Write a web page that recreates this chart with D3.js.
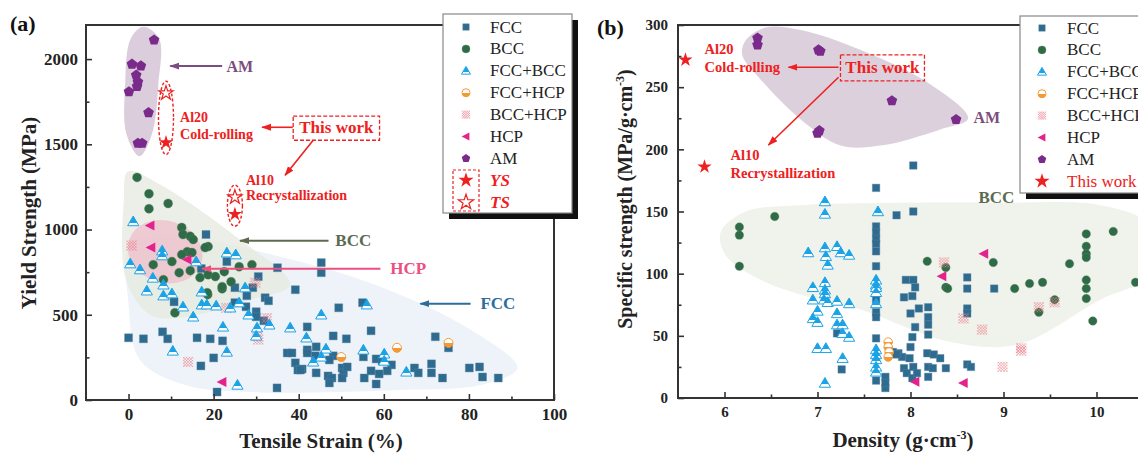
<!DOCTYPE html>
<html>
<head>
<meta charset="utf-8">
<script src="https://cdn.jsdelivr.net/npm/d3@7"></script>
<style>
body { margin: 0; background: #fff; }
svg { display: block; font-family: "Liberation Serif", "Times New Roman", serif; }
</style>
</head>
<body>
<script>
// ---------- panel (a): [tensile strain (%), yield strength (MPa)]
var fccA = [[0,365],[3.5,359],[8,400],[9.2,359],[10.7,576],[16.1,365],[19.2,359],[22.1,347],[20,247],[17,200],[20.8,47],[18.2,971],[23.1,812],[17.1,771],[25,659],[25,571],[27.8,612],[27.6,547],[29.2,659],[30.5,724],[30,518],[30,488],[31.8,465],[32.1,600],[32.9,582],[35,776],[39.2,647],[34.9,71],[37.3,276],[38.4,276],[39.2,218],[39.8,176],[45.3,806],[45.3,747],[49.4,541],[55,571],[42,429],[48.1,376],[51.2,359],[57,406],[42,294],[44.1,312],[42,276],[43.9,259],[48.1,259],[47.2,235],[55.2,253],[58.2,241],[59.6,229],[61.8,206],[40.8,182],[44.1,159],[46.9,141],[47.8,129],[47.2,100],[50.2,188],[50.5,159],[51.4,194],[50.2,129],[55.4,129],[57,171],[58.9,153],[58.2,94],[60.8,171],[67.2,188],[68.1,159],[71.2,212],[71.2,159],[73.8,129],[72.1,371],[75.2,306],[80.1,188],[82.5,194],[83.2,135],[86.9,129],[40.4,176]];
var bccA = [[2,1306],[4.8,1210],[4.8,1122],[9.3,1153],[12.5,1012],[12.8,971],[14.5,960],[15.2,941],[18.7,900],[18,894],[13.8,870],[14.9,865],[12.5,853],[10.2,812],[5.8,794],[26,782],[29,794],[8.2,706],[11.9,747],[14.5,759],[16.8,718],[18.7,735],[20.4,724],[22.5,753],[24.1,694],[22,653],[18.6,618],[10.9,512],[22,665],[18.5,629]];
var fccBccA = [[1.1,1047],[0.4,800],[2.7,765],[5.7,716],[7.9,876],[7.9,847],[8.2,676],[4.3,641],[8.2,612],[10.2,624],[12.8,547],[15.2,488],[17.2,635],[17.2,559],[18.4,559],[20.6,553],[23.1,864],[25.2,853],[15.9,812],[22.2,429],[10.4,288],[23.1,282],[25.6,88],[26,571],[23.9,541],[28.2,500],[30.2,424],[30,376],[33.1,441],[38,424],[27.4,659],[41.8,365],[45.3,500],[56,559],[46.4,300],[55.2,294],[45.3,253],[43.4,224],[60.1,271],[60.1,229],[65.3,165]];
var fccHcpA = [[50,252],[63.1,306],[75.2,335]];
var bccHcpA = [[0.7,906],[14,223],[23,540],[29.8,688],[30.5,355],[30.2,382],[32.5,480]];
var hcpA = [[5.1,1024],[5.3,894],[13.8,824],[22,106]];
var amA = [[6,2112],[0.8,1970],[2.9,1960],[1.8,1906],[2.2,1866],[2,1840],[0.1,1808],[4.7,1686],[2.2,1506],[3.2,1506]];
var ysA = [[8.8,1510],[25,1090]];
var tsA = [[8.8,1800],[25,1190]];

// ---------- panel (b): [density (g/cm3), specific strength]
var fccB = [[8.03,187],[7.63,169],[7.85,147],[8.03,150],[7.63,138],[7.63,133],[7.63,128],[7.63,124],[7.63,118],[7.63,106],[7.63,79],[7.63,69],[7.63,65],[7.63,48],[7.63,32],[7.63,14],[7.21,52],[7.26,23],[7.73,17],[7.73,8],[7.73,12],[7.87,36],[7.91,33],[7.95,95],[8.03,95],[8.05,89],[7.93,81],[8.02,82],[8.09,72],[8.19,73],[8.19,65],[8.19,59],[8.19,51],[8.0,68],[8.05,57],[8.02,49],[8.0,41],[7.93,24],[7.96,20],[8.03,25],[7.99,32],[8.02,16],[8.07,20],[8.18,36],[8.25,35],[8.32,32],[8.19,25],[8.24,24],[8.19,17],[8.38,24],[8.61,97],[8.61,88],[8.61,72],[8.61,68],[8.61,27],[8.65,25],[8.9,88],[7.81,37],[7.85,35]];
var bccB = [[6.16,137.5],[6.16,131],[6.16,106],[6.54,146],[8.18,110],[8.38,105],[8.38,89],[8.4,88],[8.89,109],[9.12,88],[9.28,92],[9.42,93],[9.38,69],[9.55,79],[9.71,108],[9.89,132],[9.89,122],[9.89,116],[9.89,113],[9.89,95],[9.89,88],[9.89,80],[9.96,62],[10.18,134],[10.42,93]];
var fccBccB = [[7.08,158],[7.08,148],[6.9,117],[7.08,121],[7.21,122],[7.25,117],[7.34,115],[7.09,114],[7.11,107],[6.95,89],[7.08,93],[7.08,87],[7.08,84],[6.95,79],[7.07,79],[7.11,77],[7.21,78],[7.34,76],[7.0,70],[7.21,68],[6.95,64],[7.0,61],[7.21,59],[7.27,59],[7.27,52],[7.34,49],[7.0,40],[7.09,40],[7.27,32],[7.08,12],[7.65,150],[7.63,95],[7.63,91],[7.63,89],[7.63,85],[7.63,76],[7.63,39],[7.63,35],[7.63,31],[7.63,25],[7.63,21]];
var fccHcpB = [[7.76,45],[7.76,41],[7.77,37],[7.76,33]];
var bccHcpB = [[8.36,109],[8.57,64],[8.77,55],[9.19,38],[9.19,40],[8.99,25],[9.38,73],[9.55,77]];
var hcpB = [[8.79,116],[8.34,98],[8.05,13],[8.57,12]];
var amB = [[6.355,289.5],[6.355,284],[7.01,280],[7.03,279],[7.02,215],[7.0,213],[7.8,239],[8.49,224]];
var thisWorkB = [[5.58,272],[5.785,186]];

// shaded group outlines (data units)
var amRegA = [[3.5,2190],[7.2,2120],[7.0,1850],[5.5,1560],[2.6,1430],[-0.5,1560],[-0.8,1850],[0.5,2120]];
var bccRegA = [[-0.1,1341],[7.4,1265],[26.2,941],[38,676],[28.6,588],[12.1,482],[5.1,500],[-0.6,706],[-1.1,1176]];
var fccRegA = [[5.1,971],[35.6,841],[59.2,665],[80.4,412],[91.4,188],[82.7,88],[63.9,59],[28.6,47],[13.3,88],[2.7,235],[-0.1,588],[-0.1,882]];
var amRegB = [[6.23,288],[6.44,298],[6.82,296],[7.46,280],[8.22,252],[8.62,225],[8.32,216],[7.68,203],[7.25,203],[6.82,224],[6.39,256],[6.19,276]];
var bccRegB = [[5.96,133.5],[6.23,150],[6.82,155],[7.89,157],[8.97,157],[10.04,155],[10.58,139],[10.69,103],[10.04,79],[9.15,43],[8.43,45],[7.43,72],[6.92,81],[6.39,95],[6.01,115]];

var xTicksA = [0,20,40,60,80,100], xMinorA = [10,30,50,70,90];
var yTicksA = [0,500,1000,1500,2000], yMinorA = [250,750,1250,1750];
var xTicksB = [6,7,8,9,10], xMinorB = [6.5,7.5,8.5,9.5,10.5];
var yTicksB = [0,50,100,150,200,250,300], yMinorB = [25,75,125,175,225,275];

var legendA = [['FCC','fcc'],['BCC','bcc'],['FCC+BCC','fb'],['FCC+HCP','fh'],['BCC+HCP','bh'],['HCP','hcp'],['AM','am']];

var C = {fcc:'#2e6b8f', bcc:'#2f6b47', fb:'#1ba3e8', fh:'#f39a35', bh:'#ea7f8a', hcp:'#e3238b', am:'#7a2a8b', red:'#ee2020', axis:'#333'};

var svg = d3.select('body').append('svg').attr('width', 1138).attr('height', 455);
var defs = svg.append('defs');

var gt = defs.append('linearGradient').attr('id','gTri').attr('x1',0).attr('y1',0).attr('x2',0).attr('y2',1);
gt.append('stop').attr('offset','0').attr('stop-color',C.fb);
gt.append('stop').attr('offset','0.68').attr('stop-color',C.fb);
gt.append('stop').attr('offset','0.68').attr('stop-color','#fff');
gt.append('stop').attr('offset','1').attr('stop-color','#fff');
var go = defs.append('linearGradient').attr('id','gOr').attr('x1',0).attr('y1',0).attr('x2',0).attr('y2',1);
go.append('stop').attr('offset','0').attr('stop-color','#fff');
go.append('stop').attr('offset','0.5').attr('stop-color','#fff');
go.append('stop').attr('offset','0.5').attr('stop-color',C.fh);
go.append('stop').attr('offset','1').attr('stop-color',C.fh);

function arrowHead(name, color) {
    defs.append('marker').attr('id','ah-'+name)
        .attr('viewBox','0 0 10 10').attr('refX',9).attr('refY',5)
        .attr('markerWidth',10).attr('markerHeight',10)
        .attr('markerUnits','userSpaceOnUse').attr('orient','auto')
        .append('path').attr('d','M0,1.5L10,5L0,8.5Z').attr('fill',color);
}
arrowHead('am','#7a4e7e');
arrowHead('bcc','#5c6b50');
arrowHead('hcp','#ec4f80');
arrowHead('fcc','#2d6d9c');
arrowHead('red',C.red);

function hatch(s) {
    var h = s/2, st = s/3.5, p = '';
    for (var c = -2*h + st/2; c < 2*h; c += st) {
        var a = Math.max(-h, -h-c), b = Math.min(h, h-c);
        if (b > a) p += 'M'+a+','+(a+c)+'L'+b+','+(b+c);
        a = Math.max(-h, c-h); b = Math.min(h, c+h);
        if (b > a) p += 'M'+a+','+(c-a)+'L'+b+','+(c-b);
    }
    return p;
}
function pent(r) {
    var pts = d3.range(5).map(function(k) {
        var t = -Math.PI/2 + k*2*Math.PI/5;
        return [r*Math.cos(t), r*Math.sin(t)];
    });
    return 'M' + pts.join('L') + 'Z';
}

// shape + style for one marker type
function styleSym(sel, type, s) {
    var h = s/2;
    if (type == 'fcc') {
        sel.attr('d','M'+(-h)+','+(-h)+'h'+s+'v'+s+'h'+(-s)+'Z').attr('fill',C.fcc).attr('stroke','#5b88a8').attr('stroke-width',0.4);
    } else if (type == 'bcc') {
        sel.attr('d', d3.symbol(d3.symbolCircle, Math.PI*h*h)()).attr('fill',C.bcc).attr('stroke','#5c8a6a').attr('stroke-width',0.4);
    } else if (type == 'fb') {
        sel.attr('d','M0,'+(-0.55*s)+'L'+(0.56*s)+','+(0.42*s)+'L'+(-0.56*s)+','+(0.42*s)+'Z')
            .attr('fill','url(#gTri)').attr('stroke',C.fb).attr('stroke-width',1);
    } else if (type == 'fh') {
        sel.attr('d', d3.symbol(d3.symbolCircle, Math.PI*h*h)()).attr('fill','url(#gOr)').attr('stroke',C.fh).attr('stroke-width',1);
    } else if (type == 'bh') {
        sel.attr('d', hatch(s)).attr('fill','none').attr('stroke',C.bh).attr('stroke-width',0.55);
    } else if (type == 'hcp') {
        sel.attr('d','M'+(-0.55*s)+',0L'+(0.42*s)+','+(-0.5*s)+'L'+(0.42*s)+','+(0.5*s)+'Z').attr('fill',C.hcp);
    } else if (type == 'am') {
        sel.attr('d', pent(0.56*s)).attr('fill',C.am);
    } else if (type == 'ys') {
        sel.attr('d', d3.symbol(d3.symbolStar, h*h/0.89)()).attr('fill',C.red);
    } else if (type == 'ts') {
        sel.attr('d', d3.symbol(d3.symbolStar, h*h/0.89)()).attr('fill','#fff').attr('stroke',C.red).attr('stroke-width',1.2);
    }
}

function plot(g, data, type, x, y, s) {
    var sel = g.append('g').selectAll('path').data(data).join('path')
        .attr('transform', function(d) { return 'translate(' + x(d[0]) + ',' + y(d[1]) + ')'; });
    styleSym(sel, type, s);
}

function region(g, pts, x, y, fill, op) {
    var line = d3.line().x(function(d){ return x(d[0]); }).y(function(d){ return y(d[1]); })
        .curve(d3.curveCatmullRomClosed.alpha(0.5));
    g.append('path').attr('d', line(pts)).attr('fill', fill).attr('fill-opacity', op);
}

function axes(g, x, y, xt, xm, yt, ym, fs, padX, padY) {
    var y0 = y.range()[0], x0 = x.range()[0];
    g.append('g').attr('transform','translate(0,'+y0+')')
        .call(d3.axisBottom(x).tickValues(xt).tickSize(-6).tickPadding(padX).tickFormat(d3.format('d')));
    g.append('g').attr('transform','translate(0,'+y0+')')
        .call(d3.axisBottom(x).tickValues(xm).tickSize(-3.5).tickFormat(''));
    g.append('g').attr('transform','translate('+x0+',0)')
        .call(d3.axisLeft(y).tickValues(yt).tickSize(-6).tickPadding(padY).tickFormat(d3.format('d')));
    g.append('g').attr('transform','translate('+x0+',0)')
        .call(d3.axisLeft(y).tickValues(ym).tickSize(-3.5).tickFormat(''));
    g.selectAll('.domain').remove();
    g.selectAll('.tick line').attr('stroke', C.axis).attr('stroke-width', 1.6);
    g.selectAll('.tick text').attr('fill','#222').attr('font-size', fs).attr('font-weight','bold')
        .attr('font-family','"Liberation Serif", serif');
    g.append('rect').attr('x', x0).attr('y', y.range()[1])
        .attr('width', x.range()[1]-x0).attr('height', y0-y.range()[1])
        .attr('fill','none').attr('stroke', C.axis).attr('stroke-width', 2);
}

function txt(g, x, y, s, color, size, anchor, opts) {
    var t = g.append('text').attr('x', x).attr('y', y).text(s)
        .attr('fill', color).attr('font-size', size).attr('font-weight','bold')
        .attr('text-anchor', anchor || 'start').attr('dominant-baseline','central');
    if (opts && opts.italic) t.attr('font-style','italic');
    if (opts && opts.normal) t.attr('font-weight','normal');
    return t;
}

function arrow(g, x1, y1, x2, y2, color, name, w) {
    g.append('line').attr('x1',x1).attr('y1',y1).attr('x2',x2).attr('y2',y2)
        .attr('stroke',color).attr('stroke-width', w || 2).attr('marker-end','url(#ah-'+name+')');
}

function legend(g, x0, y0, w, h, items, symX, txtX, rowY, dy, sizes) {
    g.append('rect').attr('x',x0+6).attr('y',y0+6).attr('width',w).attr('height',h).attr('fill','#111');
    g.append('rect').attr('x',x0).attr('y',y0).attr('width',w).attr('height',h)
        .attr('fill','#fff').attr('stroke','#888').attr('stroke-width',1.2);
    items.forEach(function(it, i) {
        var cy = rowY + i*dy;
        var p = g.append('path').attr('transform','translate('+symX+','+cy+')');
        styleSym(p, it[1], sizes[it[1]]);
        txt(g, txtX, cy, it[0], it[2] || '#222', 17, 'start', it[3] || {normal:true});
    });
}

// =================== panel (a)
var xA = d3.scaleLinear().domain([-10,100]).range([86,554]);
var yA = d3.scaleLinear().domain([0,2200]).range([400,25]);
var gA = svg.append('g');

region(gA, fccRegA, xA, yA, '#eef3f9', 1);
region(gA, bccRegA, xA, yA, '#e4e8dd', 0.7);
gA.append('ellipse').attr('cx', xA(8.6)).attr('cy', yA(870)).attr('rx', 38).attr('ry', 31)
    .attr('transform','rotate(18,'+xA(8.6)+','+yA(870)+')')
    .attr('fill','#f0bccb').attr('fill-opacity',0.7);
region(gA, amRegA, xA, yA, '#dbcddb', 1);

var sA = {fcc:8, bcc:9, fb:10, fh:9, bh:10, hcp:10, am:10, ys:15, ts:15};
plot(gA, fccA, 'fcc', xA, yA, sA.fcc);
plot(gA, bccA, 'bcc', xA, yA, sA.bcc);
plot(gA, bccHcpA, 'bh', xA, yA, sA.bh);
plot(gA, fccBccA, 'fb', xA, yA, sA.fb);
plot(gA, fccHcpA, 'fh', xA, yA, sA.fh);
plot(gA, hcpA, 'hcp', xA, yA, sA.hcp);
plot(gA, amA, 'am', xA, yA, sA.am);

// dashed rings around this work
ysA.forEach(function(d, i) {
    var t = tsA[i], cy = (yA(d[1]) + yA(t[1])) / 2;
    gA.append('ellipse').attr('cx', xA(d[0])).attr('cy', cy)
        .attr('rx', 7.5).attr('ry', (yA(d[1]) - yA(t[1])) / 2 + 12)
        .attr('fill','none').attr('stroke',C.red).attr('stroke-width',1.4).attr('stroke-dasharray','3,2');
});
plot(gA, tsA, 'ts', xA, yA, sA.ts);
plot(gA, ysA, 'ys', xA, yA, sA.ys);

axes(gA, xA, yA, xTicksA, xMinorA, yTicksA, yMinorA, 17, 8, 8);

// annotations (a)
arrow(gA, xA(22), yA(1959), xA(9.8), yA(1959), '#7a4e7e', 'am', 2);
txt(gA, xA(23), yA(1959), 'AM', '#7a4e7e', 16);
txt(gA, xA(12.1), yA(1659), 'Al20', C.red, 14);
txt(gA, xA(12.1), yA(1559), 'Cold-rolling', C.red, 14);
arrow(gA, xA(38.6), yA(1600), xA(31.4), yA(1600), C.red, 'red', 1.6);
gA.append('rect').attr('x', xA(38.7)).attr('y', yA(1665)).attr('width', xA(59) - xA(38.7)).attr('height', yA(1524) - yA(1665))
    .attr('fill','none').attr('stroke',C.red).attr('stroke-width',1.3).attr('stroke-dasharray','4,2');
txt(gA, (xA(38.7) + xA(59)) / 2, yA(1597), 'This work', C.red, 17, 'middle');
arrow(gA, xA(43.4), yA(1524), xA(36.8), yA(1318), C.red, 'red', 1.6);
txt(gA, xA(27.6), yA(1288), 'Al10', C.red, 14);
txt(gA, xA(27.6), yA(1200), 'Recrystallization', C.red, 14);
arrow(gA, xA(47), yA(935), xA(26.2), yA(935), '#5c6b50', 'bcc', 2);
txt(gA, xA(48.6), yA(935), 'BCC', '#5c6b50', 17);
arrow(gA, xA(59.2), yA(770), xA(17.3), yA(770), '#ec4f80', 'hcp', 2);
txt(gA, xA(61.5), yA(770), 'HCP', '#ec4f80', 17);
arrow(gA, xA(80.4), yA(565), xA(68.6), yA(565), '#2d6d9c', 'fcc', 2);
txt(gA, xA(82.7), yA(565), 'FCC', '#2d6d9c', 17);

txt(gA, 10, 23, '(a)', '#111', 22);
gA.append('text').attr('transform','translate(36,213) rotate(-90)').attr('text-anchor','middle')
    .attr('font-size',21).attr('font-weight','bold').attr('fill','#222').text('Yield Strength (MPa)');
gA.append('text').attr('x', 321).attr('y', 448).attr('text-anchor','middle')
    .attr('font-size',21).attr('font-weight','bold').attr('fill','#222').text('Tensile Strain (%)');

var itemsA = legendA.map(function(d){ return [d[0], d[1]]; })
    .concat([['YS','ys',C.red,{italic:true}],['TS','ts',C.red,{italic:true}]]);
legend(gA, 443, 14, 129, 199, itemsA, 466, 490, 27, 21.9,
    {fcc:6.5, bcc:8, fb:8, fh:8, bh:8, hcp:8, am:8, ys:16, ts:16});
gA.append('rect').attr('x',453).attr('y',170).attr('width',26).attr('height',41)
    .attr('fill','none').attr('stroke',C.red).attr('stroke-width',1.2).attr('stroke-dasharray','3,2');

// =================== panel (b)
var xB = d3.scaleLinear().domain([5.5,11]).range([678,1189.5]);
var yB = d3.scaleLinear().domain([0,300]).range([398,25]);
var gB = svg.append('g');

region(gB, bccRegB, xB, yB, '#f0f2ec', 1);
region(gB, amRegB, xB, yB, '#ddd0dd', 1);

var sB = {fcc:7.5, bcc:8.5, fb:10, fh:8.5, bh:10, hcp:10, am:10, ys:15};
plot(gB, fccB, 'fcc', xB, yB, sB.fcc);
plot(gB, bccB, 'bcc', xB, yB, sB.bcc);
plot(gB, bccHcpB, 'bh', xB, yB, sB.bh);
plot(gB, fccBccB, 'fb', xB, yB, sB.fb);
plot(gB, fccHcpB, 'fh', xB, yB, sB.fh);
plot(gB, hcpB, 'hcp', xB, yB, sB.hcp);
plot(gB, amB, 'am', xB, yB, sB.am);
plot(gB, thisWorkB, 'ys', xB, yB, sB.ys);

axes(gB, xB, yB, xTicksB, xMinorB, yTicksB, yMinorB, 15, 8, 10);

txt(gB, xB(5.785), yB(280.7), 'Al20', C.red, 14.5);
txt(gB, xB(5.785), yB(266), 'Cold-rolling', C.red, 14.5);
arrow(gB, xB(7.226), yB(266), xB(6.688), yB(266), C.red, 'red', 1.6);
gB.append('rect').attr('x', xB(7.247)).attr('y', yB(276)).attr('width', xB(8.15) - xB(7.247)).attr('height', yB(255) - yB(276))
    .attr('fill','none').attr('stroke',C.red).attr('stroke-width',1.3).attr('stroke-dasharray','4,2');
txt(gB, (xB(7.247) + xB(8.15)) / 2, yB(265.5), 'This work', C.red, 17, 'middle');
arrow(gB, xB(7.226), yB(258), xB(6.473), yB(203.5), C.red, 'red', 1.6);
txt(gB, xB(6.065), yB(195.4), 'Al10', C.red, 14.5);
txt(gB, xB(6.065), yB(181), 'Recrystallization', C.red, 14.5);
txt(gB, xB(8.677), yB(226), 'AM', '#7a4e7e', 16);
txt(gB, xB(8.73), yB(161), 'BCC', '#5c6b50', 17);

txt(gB, 597, 27, '(b)', '#111', 22);
var yt = gB.append('text').attr('transform','translate(632,199) rotate(-90)').attr('text-anchor','middle')
    .attr('font-size',20).attr('font-weight','bold').attr('fill','#222');
yt.append('tspan').text('Specific strength (MPa/g\u00b7cm');
yt.append('tspan').attr('dy',-8).attr('font-size',12).text('-3');
yt.append('tspan').attr('dy',8).text(')');
var xt = gB.append('text').attr('x', 903).attr('y', 447).attr('text-anchor','middle')
    .attr('font-size',21).attr('font-weight','bold').attr('fill','#222');
xt.append('tspan').text('Density (g\u00b7cm');
xt.append('tspan').attr('dy',-8).attr('font-size',12).text('-3');
xt.append('tspan').attr('dy',8).text(')');

var itemsB = legendA.map(function(d){ return [d[0], d[1]]; }).concat([['This work','ys',C.red,{normal:true}]]);
legend(gB, 1020, 16, 140, 177, itemsB, 1042, 1067, 28, 21.9,
    {fcc:6.5, bcc:8, fb:8, fh:8, bh:8, hcp:8, am:8, ys:16});
</script>
</body>
</html>
